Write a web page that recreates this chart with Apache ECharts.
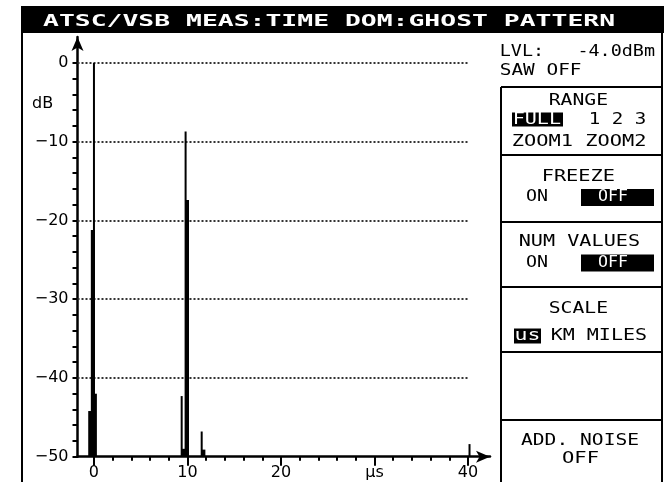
<!DOCTYPE html>
<html>
<head>
<meta charset="utf-8">
<script src="https://cdn.jsdelivr.net/npm/echarts@6/dist/echarts.min.js"></script>
<style>
html, body { margin: 0; padding: 0; background: #fff; }
#ghost { width: 664px; height: 482px; }
</style>
</head>
<body>
<div id="ghost"></div>
<script>
// echo spikes: delay (us) and level (dB)
var thinTime  = [0,   9.8,  9.38,  11.52, 40.16];
var thinLevel = [0,  -8.7, -42.3, -46.8, -48.4];
var wideTime  = [-0.12, -0.4,  0.1,  9.95, 9.6,  11.7];
var wideLevel = [-21.2, -44.2, -42, -17.4, -49, -49.1];

var xMajor = [0, 10, 20, 30, 40];
var xMinor = [2, 4, 6, 8, 12, 14, 16, 18, 22, 24, 26, 28, 32, 34, 36, 38];
var yMajor = [0, -10, -20, -30, -40, -50];
var yMinor = [-2, -4, -6, -8, -12, -14, -16, -18, -22, -24, -26, -28,
              -32, -34, -36, -38, -42, -44, -46, -48];
var gridLevels = [0, -10, -20, -30, -40];

var xMin = -1.76, xMax = 42.35, yMin = -50, yMax = 3.3;

var ghost = echarts.init(document.getElementById('ghost'));

var measureCtx = document.createElement('canvas').getContext('2d');
// text stretched to the span it takes on the instrument screen
function screenText(str, left, right, mid, opts) {
    opts = opts || {};
    var size = opts.size || 15;
    var weight = opts.weight || 'normal';
    var family = 'DejaVu Sans Mono';
    measureCtx.font = weight + ' ' + size + 'px "' + family + '"';
    var m = measureCtx.measureText(str);
    var ink = m.actualBoundingBoxLeft + m.actualBoundingBoxRight;
    var s = (right - left) / ink;
    return {
        type: 'text', x: left + m.actualBoundingBoxLeft * s, y: mid, scaleX: s, z: 20, silent: true,
        style: {
            text: str, fontSize: size, fontWeight: weight, fontFamily: family,
            fill: opts.color || '#000', align: 'left', verticalAlign: 'middle'
        }
    };
}
function box(x, y, w, h) {
    return {type: 'rect', z: 15, silent: true, shape: {x: x, y: y, width: w, height: h}, style: {fill: '#000'}};
}
function rule(x1, y1, x2, y2) {
    return {type: 'line', z: 15, silent: true, shape: {x1: x1, y1: y1, x2: x2, y2: y2},
        style: {stroke: '#000', lineWidth: 2}};
}

var graphics = [
    box(21, 6, 643, 27),
    screenText('ATSC/VSB MEAS:TIME DOM:GHOST PATTERN', 43, 615, 22, {weight: 'bold', color: '#fff'}),
    rule(22, 33, 22, 482),
    rule(662, 33, 662, 482),
    rule(501, 87, 501, 482),
    rule(501, 87, 662, 87),
    rule(501, 155, 662, 155),
    rule(501, 222, 662, 222),
    rule(501, 287, 662, 287),
    rule(501, 352, 662, 352),
    rule(501, 420, 662, 420),
    screenText('LVL:   -4.0dBm', 501, 655, 52.5),
    screenText('SAW OFF', 501, 581.5, 71.5),
    screenText('RANGE', 550, 608, 101),
    box(512, 112.5, 51, 14),
    screenText('FULL', 514, 561, 119.7, {color: '#fff'}),
    screenText('1 2 3', 590, 645, 119.7),
    screenText('ZOOM1 ZOOM2', 513, 645, 142),
    screenText('FREEZE', 543, 615, 177),
    screenText('ON', 526, 548, 197.5),
    box(581, 189, 73, 17),
    screenText('OFF', 598, 628, 197.5, {color: '#fff'}),
    screenText('NUM VALUES', 520, 640, 242),
    screenText('ON', 526, 548, 263),
    box(581, 254.5, 73, 17),
    screenText('OFF', 598, 628, 263, {color: '#fff'}),
    screenText('SCALE', 550, 608, 309.5),
    box(514, 328.5, 27, 15),
    screenText('us', 516, 539, 336, {color: '#fff'}),
    screenText('KM MILES', 552, 647, 336),
    screenText('ADD. NOISE', 521, 639, 441.5),
    screenText('OFF', 562, 599, 459),
    {type: 'text', x: 32, y: 104, z: 20, silent: true,
        style: {text: 'dB', fontSize: 16, fontFamily: 'DejaVu Sans', fill: '#000', verticalAlign: 'middle'}}
];

function spikeRenderer(width) {
    return function (params, api) {
        var top = api.coord([api.value(0), api.value(1)]);
        var base = api.coord([api.value(0), yMin]);
        return {
            type: 'rect',
            shape: {x: top[0] - width / 2, y: top[1], width: width, height: base[1] - top[1]},
            style: {fill: '#000'}
        };
    };
}
function pairs(t, v) {
    return t.map(function (x, i) { return [x, v[i]]; });
}

var axisFont = {fontSize: 16, fontFamily: 'DejaVu Sans', color: '#000'};

var ghost_option = {
    animation: false,
    backgroundColor: '#fff',
    grid: {left: 77.5, right: 174, top: 37, bottom: 25.3, containLabel: false},
    xAxis: [
        {
            type: 'value', min: xMin, max: xMax,
            axisLine: {show: true, onZero: false, symbol: ['none', 'arrow'], symbolSize: [9, 14],
                lineStyle: {color: '#000', width: 2.5}},
            axisTick: {show: true, customValues: xMajor, length: 9, lineStyle: {color: '#000', width: 2}},
            axisLabel: Object.assign({customValues: xMajor, margin: 8,
                formatter: function (v) { return v === 30 ? 'µs' : String(v); }}, axisFont),
            splitLine: {show: false}
        },
        {
            type: 'value', min: xMin, max: xMax, position: 'bottom',
            axisLine: {show: false, onZero: false},
            axisTick: {show: true, customValues: xMinor, length: 4, lineStyle: {color: '#000', width: 2}},
            axisLabel: {show: false},
            splitLine: {show: false}
        }
    ],
    yAxis: [
        {
            type: 'value', min: yMin, max: yMax,
            axisLine: {show: true, onZero: false, symbol: ['none', 'arrow'], symbolSize: [9, 14],
                lineStyle: {color: '#000', width: 2.5}},
            axisTick: {show: true, customValues: yMajor, length: 5, lineStyle: {color: '#000', width: 2}},
            axisLabel: Object.assign({customValues: yMajor, margin: 9,
                formatter: function (v) { return String(v).replace('-', '\u2212'); }}, axisFont),
            splitLine: {show: false}
        },
        {
            type: 'value', min: yMin, max: yMax, position: 'left',
            axisLine: {show: false, onZero: false},
            axisTick: {show: true, customValues: yMinor, length: 5, lineStyle: {color: '#000', width: 2}},
            axisLabel: {show: false},
            splitLine: {show: false}
        }
    ],
    graphic: {elements: graphics},
    series: [
        {
            name: 'grid',
            type: 'line',
            data: [],
            silent: true,
            markLine: {
                silent: true,
                symbol: ['none', 'none'],
                label: {show: false},
                lineStyle: {color: '#333', width: 2, type: [2, 2]},
                data: gridLevels.map(function (v) {
                    return [{coord: [xMin, v]}, {coord: [40, v]}];
                })
            }
        },
        {
            name: 'echo',
            type: 'custom',
            renderItem: spikeRenderer(2),
            data: pairs(thinTime, thinLevel),
            z: 5
        },
        {
            name: 'echo wide',
            type: 'custom',
            renderItem: spikeRenderer(4),
            data: pairs(wideTime, wideLevel),
            z: 5
        }
    ]
};
ghost.setOption(ghost_option);
</script>
</body>
</html>
